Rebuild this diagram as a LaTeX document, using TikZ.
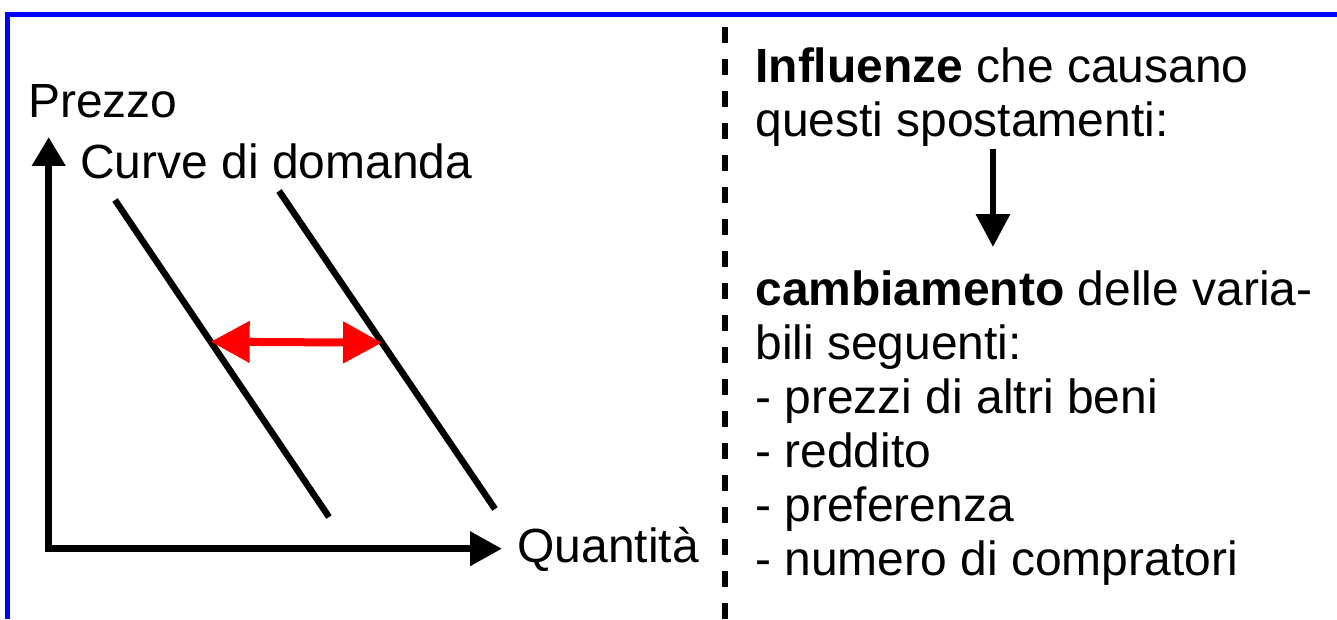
\documentclass[tikz,border=0pt]{standalone}
\usepackage{fontspec}
\setmainfont{Liberation Sans}
\usepackage{tikz}
\usetikzlibrary{positioning,calc,arrows.meta}
\definecolor{framblue}{RGB}{0,0,255}
\definecolor{shiftred}{RGB}{255,0,0}

\begin{document}
\begin{tikzpicture}[x=0.02cm,y=-0.02cm,
  lbl/.style={inner sep=0pt,font=\fontsize{27.3}{30.8}\selectfont},
  txt/.style={inner sep=0pt,align=left,font=\fontsize{27.3}{30.8}\selectfont},
  ax/.style={line width=0.145cm,line join=miter},
  dcurve/.style={line width=0.13cm},
  shiftarr/.style={{Triangle[length=0.78cm,width=0.8cm]}-{Triangle[length=0.78cm,width=0.8cm]},
                line width=0.16cm,color=shiftred},
  arr/.style={-{Triangle[length=0.66cm,width=0.66cm]},line width=0.13cm}]
  \useasboundingbox (0,0) rectangle (1337,619);
  \draw[framblue,line width=0.1cm] (1337,14.5) -| (7.5,619);
  \draw[line width=0.13cm,dash pattern=on 0.32cm off 0.32cm] (725,27) -- (725,619);
  % grafico
  \node[lbl,anchor=base west] (price) at (28,117) {Prezzo};
  \node[lbl,anchor=base west] (curves) at (80,178) {Curve di domanda};
  \node[lbl,anchor=base west] (qty) at (517,562) {Quantità};
  \coordinate (origin) at (48.7,548.7);
  \coordinate (ytop) at (48.7,137);
  \coordinate (xend) at (502,548.7);
  \draw[ax,{Triangle[length=0.58cm,width=0.64cm]}-{Triangle[length=0.64cm,width=0.66cm]}]
    (ytop) -- (origin) -- (xend);
  \draw[dcurve] (115,200) -- coordinate[pos=0.447] (d1) (329,517);
  \draw[dcurve] (279,191) -- coordinate[pos=0.477] (d2) (495,509);
  \draw[shiftarr] (d1) -- (d2);
  % influenze
  \node[txt,anchor=north west] (cause) at (755,47) {\textbf{Influenze} che causano\\questi spostamenti:};
  \node[txt,anchor=north west] (change) at (755,270) {\textbf{cambiamento} delle varia-\\bili seguenti:\\- prezzi di altri beni\\- reddito\\- preferenza\\- numero di compratori};
  \draw[arr,shorten <=0.04cm,shorten >=0.46cm] ([xshift=4.76cm]cause.south west) -- ([xshift=4.76cm]cause.south west |- change.north);
\end{tikzpicture}
\end{document}
